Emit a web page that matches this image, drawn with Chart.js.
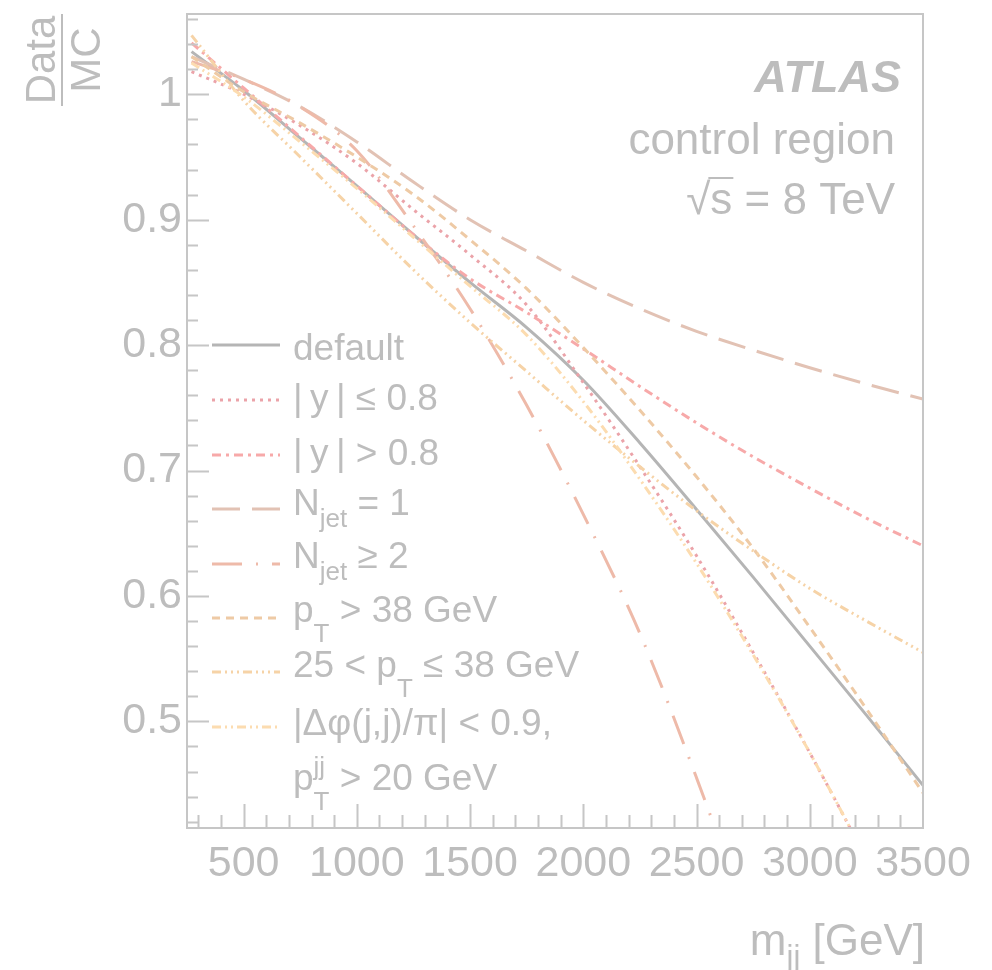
<!DOCTYPE html>
<html>
<head>
<meta charset="utf-8">
<script src="https://cdn.jsdelivr.net/npm/chart.js@4.4.1/dist/chart.umd.min.js"></script>
<style>
  html, body { margin: 0; background: #fff; }
  canvas { display: block; }
</style>
</head>
<body>
<canvas id="ratioChart" width="992" height="970"></canvas>
<script>
const mjj = [270, 500, 750, 1000, 1250, 1500, 1750, 2000, 2250, 2500, 2750, 3000, 3250, 3500];

// Data/MC ratio for each selection
const ratioDefault   = [1.034, 1.003, 0.965, 0.927, 0.888, 0.850, 0.814, 0.772, 0.722, 0.669, 0.615, 0.560, 0.505, 0.449];
const ratioYLow      = [1.018, 1.000, 0.975, 0.945, 0.908, 0.872, 0.832, 0.770, 0.703, 0.632, 0.555, 0.475, 0.390, 0.300];
const ratioYHigh     = [1.041, 1.005, 0.966, 0.927, 0.888, 0.853, 0.826, 0.797, 0.767, 0.738, 0.711, 0.686, 0.662, 0.640];
const ratioNjet1     = [1.030, 1.012, 0.990, 0.962, 0.930, 0.900, 0.875, 0.850, 0.829, 0.811, 0.796, 0.782, 0.769, 0.757];
const ratioNjet2     = [1.026, 1.012, 0.990, 0.955, 0.895, 0.829, 0.752, 0.665, 0.570, 0.455, 0.330, null, null, null];
const ratioPtHigh    = [1.030, 1.002, 0.977, 0.950, 0.920, 0.884, 0.845, 0.798, 0.748, 0.695, 0.638, 0.575, 0.510, 0.443];
const ratioPtMid     = [1.047, 0.995, 0.950, 0.905, 0.860, 0.818, 0.779, 0.740, 0.703, 0.668, 0.636, 0.606, 0.580, 0.555];
const ratioDphi      = [1.025, 0.998, 0.962, 0.925, 0.886, 0.847, 0.808, 0.755, 0.693, 0.626, 0.553, 0.475, 0.390, 0.300];

const xTicks = [500, 1000, 1500, 2000, 2500, 3000, 3500];
const yTicks = [0.5, 0.6, 0.7, 0.8, 0.9, 1.0];

const FONT = '"Liberation Sans", Arial, Helvetica, sans-serif';
const TEXT = '#bdbdbd';
const FRAME = '#c6c6c6';

const series = [
  { data: ratioDefault, color: '#b5b5b5', dash: [] },
  { data: ratioYLow,    color: '#eba3a9', dash: [3, 5] },
  { data: ratioYHigh,   color: '#f7a9a9', dash: [9, 5, 3, 5] },
  { data: ratioNjet1,   color: '#e2c2b4', dash: [28, 12] },
  { data: ratioNjet2,   color: '#eebaa9', dash: [30, 14, 2, 14] },
  { data: ratioPtHigh,  color: '#eecaa5', dash: [8, 6] },
  { data: ratioPtMid,   color: '#f6d3a7', dash: [9, 4, 2, 4, 2, 4, 2, 4] },
  { data: ratioDphi,    color: '#fcdcb0', dash: [9, 4, 2, 4, 2, 4] }
];

// legend rows: line y, text baseline, rich text pieces
const legendRows = [
  { line: 345, base: 360, parts: [{ t: 'default' }] },
  { line: 400, base: 410, parts: [{ t: '|\u2009y\u2009| \u2264 0.8' }] },
  { line: 455, base: 465, parts: [{ t: '|\u2009y\u2009| > 0.8' }] },
  { line: 509, base: 515, parts: [{ t: 'N' }, { t: 'jet', small: true, dy: 12 }, { t: ' = 1' }] },
  { line: 564, base: 568, parts: [{ t: 'N' }, { t: 'jet', small: true, dy: 12 }, { t: ' \u2265 2' }] },
  { line: 618, base: 622, parts: [{ t: 'p' }, { t: 'T', small: true, dy: 20 }, { t: ' > 38 GeV' }] },
  { line: 672, base: 677, parts: [{ t: '25 < p' }, { t: 'T', small: true, dy: 20 }, { t: ' \u2264 38 GeV' }] },
  { line: 727, base: 735, parts: [{ t: '|\u0394\u03c6(j,j)/\u03c0| < 0.9,' }] },
  { line: null, base: 790, parts: [{ t: 'p' }, { t: 'jj', small: true, dy: -15, stay: true }, { t: 'T', small: true, dy: 20 }, { t: ' > 20 GeV' }] }
];

function richWidth(ctx, parts, size) {
  let w = 0;
  parts.forEach(p => {
    ctx.font = (p.small ? Math.round(size * 0.7) : size) + 'px ' + FONT;
    if (!p.stay) w += ctx.measureText(p.t).width;
  });
  return w;
}

function drawRich(ctx, x, y, parts, size) {
  let cx = x;
  parts.forEach(p => {
    ctx.font = (p.small ? Math.round(size * 0.7) : size) + 'px ' + FONT;
    ctx.fillText(p.t, cx, y + (p.dy || 0));
    if (!p.stay) cx += ctx.measureText(p.t).width;
  });
}

const decorations = {
  id: 'decorations',
  afterDatasetsDraw(chart) {
    const { ctx, chartArea: a, scales: { x, y } } = chart;
    ctx.save();

    // frame + inward ticks
    ctx.strokeStyle = FRAME;
    ctx.lineWidth = 2;
    ctx.strokeRect(a.left, a.top, a.right - a.left, a.bottom - a.top);
    ctx.beginPath();
    for (let v = 300; v < 3500; v += 100) {
      const px = Math.round(x.getPixelForValue(v)) + 0.5;
      const len = v % 500 === 0 ? 24 : 13;
      ctx.moveTo(px, a.bottom);
      ctx.lineTo(px, a.bottom - len);
    }
    for (let k = 21; k <= 53; k++) {
      const py = Math.round(y.getPixelForValue(k * 0.02)) + 0.5;
      const len = k % 5 === 0 ? 22 : 11;
      ctx.moveTo(a.left, py);
      ctx.lineTo(a.left + len, py);
    }
    ctx.stroke();

    // legend
    ctx.textAlign = 'left';
    ctx.textBaseline = 'alphabetic';
    legendRows.forEach((row, i) => {
      if (row.line !== null) {
        const s = series[i];
        ctx.strokeStyle = s.color;
        ctx.lineWidth = 3;
        ctx.setLineDash(s.dash);
        ctx.beginPath();
        ctx.moveTo(212, row.line);
        ctx.lineTo(280, row.line);
        ctx.stroke();
        ctx.setLineDash([]);
      }
      ctx.fillStyle = TEXT;
      drawRich(ctx, 293, row.base, row.parts, 37);
    });

    // labels top right
    ctx.fillStyle = TEXT;
    ctx.textAlign = 'right';
    ctx.font = 'italic bold 45px ' + FONT;
    ctx.fillText('ATLAS', 901, 92);
    ctx.font = '44px ' + FONT;
    ctx.fillText('control region', 895, 154);
    const sq = '\u221as = 8 TeV';
    ctx.fillText(sq, 895, 214);
    const w = ctx.measureText(sq).width;
    const x0 = 895 - w;
    const r0 = ctx.measureText('\u221a').width;
    const r1 = ctx.measureText('\u221as').width;
    ctx.strokeStyle = TEXT;
    ctx.lineWidth = 2;
    ctx.beginPath();
    ctx.moveTo(x0 + r0 - 2, 178);
    ctx.lineTo(x0 + r1 + 1, 178);
    ctx.stroke();

    // x title
    ctx.textAlign = 'left';
    const xt = [{ t: 'm' }, { t: 'jj', small: true, dy: 12 }, { t: ' [GeV]' }];
    drawRich(ctx, 925 - richWidth(ctx, xt, 44), 955, xt, 44);

    // y title as fraction Data / MC
    ctx.translate(62, 60);
    ctx.rotate(-Math.PI / 2);
    ctx.textAlign = 'center';
    ctx.font = '42px ' + FONT;
    ctx.fillText('Data', 0, -7);
    ctx.fillText('MC', 0, 38);
    ctx.lineWidth = 2;
    ctx.beginPath();
    ctx.moveTo(-46, 0);
    ctx.lineTo(46, 0);
    ctx.stroke();

    ctx.restore();
  }
};

new Chart(document.getElementById('ratioChart'), {
  type: 'line',
  data: {
    datasets: series.map(s => ({
      data: mjj.map((m, i) => ({ x: m, y: s.data[i] })),
      borderColor: s.color,
      borderDash: s.dash,
      borderWidth: 3,
      pointRadius: 0,
      fill: false,
      cubicInterpolationMode: 'monotone',
      spanGaps: false,
      clip: 0
    })).reverse()
  },
  options: {
    responsive: false,
    animation: false,
    devicePixelRatio: 1,
    layout: { padding: { top: 14, right: 69, bottom: 0, left: 0 } },
    plugins: { legend: { display: false }, tooltip: { enabled: false } },
    scales: {
      x: {
        type: 'linear',
        min: 250,
        max: 3500,
        afterFit: s => { s.height = 142; s.paddingLeft = 0; s.paddingRight = 0; },
        afterBuildTicks: s => { s.ticks = xTicks.map(v => ({ value: v })); },
        grid: { display: false, drawTicks: false },
        border: { display: false },
        ticks: {
          color: TEXT,
          font: { family: FONT, size: 43 },
          padding: 10,
          maxRotation: 0,
          autoSkip: false,
          callback: v => String(v)
        }
      },
      y: {
        type: 'linear',
        min: 0.415,
        max: 1.064,
        afterFit: s => { s.width = 187; s.paddingTop = 0; s.paddingBottom = 0; },
        afterBuildTicks: s => { s.ticks = yTicks.map(v => ({ value: v })); },
        grid: { display: false, drawTicks: false },
        border: { display: false },
        ticks: {
          color: TEXT,
          font: { family: FONT, size: 43 },
          padding: 5,
          autoSkip: false,
          callback: v => String(Math.round(v * 10) / 10)
        }
      }
    }
  },
  plugins: [decorations]
});
</script>
</body>
</html>
